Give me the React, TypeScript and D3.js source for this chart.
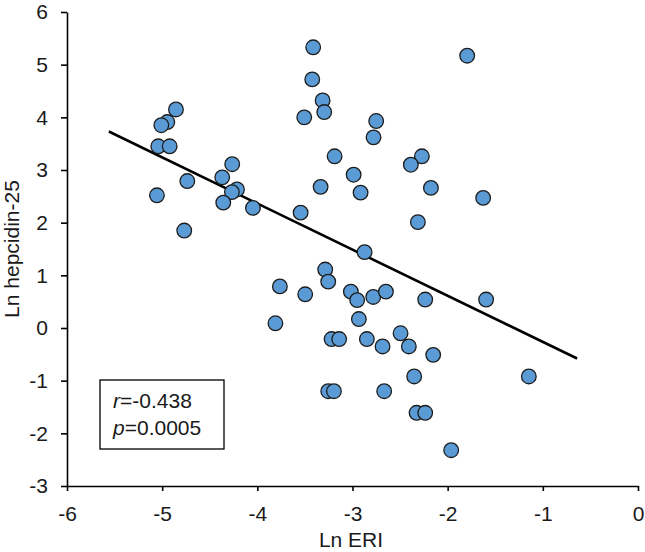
import React, { useRef, useEffect } from 'react';
import * as d3 from 'd3';

// Ln ERI (x) and Ln hepcidin-25 (y) per subject
const lnEri = [
  -4.855, -4.946, -5.009, -5.041, -4.921, -4.264, -4.369, -4.736, -4.214, -4.267,
  -5.055, -4.358, -4.046, -4.768, -3.413, -1.795, -3.423, -3.314, -3.297, -3.507,
  -2.751, -2.779, -3.188, -2.271, -2.387, -2.988, -3.335, -2.176, -2.915, -1.627,
  -3.545, -2.313, -2.873, -3.287, -3.255, -3.763, -3.497, -3.017, -2.951, -2.782,
  -2.649, -2.236, -2.933, -3.22, -3.14, -2.849, -2.684, -2.495, -2.408, -2.152,
  -2.352, -3.255, -3.195, -2.667, -2.327, -2.236, -1.963, -3.81, -1.596, -1.147,
];
const lnHepcidin = [
  4.15, 3.91, 3.85, 3.45, 3.45, 3.11, 2.86, 2.79, 2.63, 2.58,
  2.52, 2.38, 2.28, 1.85, 5.33, 5.17, 4.72, 4.32, 4.1, 4.0,
  3.93, 3.62, 3.26, 3.26, 3.1, 2.91, 2.68, 2.66, 2.57, 2.47,
  2.19, 2.01, 1.44, 1.11, 0.88, 0.79, 0.64, 0.69, 0.53, 0.59,
  0.69, 0.54, 0.17, -0.21, -0.21, -0.21, -0.35, -0.1, -0.35, -0.51,
  -0.92, -1.2, -1.2, -1.2, -1.61, -1.61, -2.32, 0.09, 0.54, -0.92,
];

// linear fit: y = intercept + slope * x, drawn over fitRange
const fitSlope = -0.876;
const fitIntercept = -1.14;
const fitRange = [-5.56, -0.64];

const xTicks = [-6, -5, -4, -3, -2, -1, 0];
const yTicks = [-3, -2, -1, 0, 1, 2, 3, 4, 5, 6];
const statLines = [
  { sym: 'r', val: '=-0.438' },
  { sym: 'p', val: '=0.0005' },
];

const WIDTH = 645;
const HEIGHT = 552;
const LEFT = 67;
const RIGHT = 638;
const TOP = 12;
const BOTTOM = 486;
const FONT = 'Liberation Sans, Arial, sans-serif';

function App() {
  const ref = useRef<SVGSVGElement>(null);

  useEffect(() => {
    document.body.style.margin = '0';
    const svg = d3.select(ref.current);
    svg.selectAll('*').remove();

    const x = d3.scaleLinear().domain([-6, 0]).range([LEFT, RIGHT]);
    const y = d3.scaleLinear().domain([-3, 6]).range([BOTTOM, TOP]);

    const yAxis = svg
      .append('g')
      .attr('transform', `translate(${LEFT},0)`)
      .call(
        d3.axisLeft(y).tickValues(yTicks).tickSize(6).tickSizeOuter(0).tickPadding(13)
          .tickFormat(d => String(d))
      );
    const xAxis = svg
      .append('g')
      .attr('transform', `translate(0,${BOTTOM})`)
      .call(
        d3.axisBottom(x).tickValues(xTicks).tickSize(5).tickSizeOuter(0).tickPadding(15)
          .tickFormat(d => String(d))
      );

    [xAxis, yAxis].forEach(g => {
      g.select('.domain').attr('stroke', '#000').attr('stroke-width', 1.6);
      g.selectAll('.tick line').attr('stroke', '#000').attr('stroke-width', 1.6);
      g.selectAll('.tick text')
        .attr('fill', '#1a1a1a')
        .style('font-family', FONT)
        .style('font-size', '21px');
    });

    // regression line
    svg
      .append('line')
      .attr('x1', x(fitRange[0]))
      .attr('y1', y(fitIntercept + fitSlope * fitRange[0]))
      .attr('x2', x(fitRange[1]))
      .attr('y2', y(fitIntercept + fitSlope * fitRange[1]))
      .attr('stroke', '#000')
      .attr('stroke-width', 2.6);

    svg
      .append('g')
      .selectAll('circle')
      .data(lnEri.map((v, i) => [v, lnHepcidin[i]]))
      .join('circle')
      .attr('cx', d => x(d[0]))
      .attr('cy', d => y(d[1]))
      .attr('r', 7.3)
      .attr('fill', '#5b9bd5')
      .attr('stroke', '#1c1c1c')
      .attr('stroke-width', 1.3);

    // stats box
    const box = svg.append('g');
    box
      .append('rect')
      .attr('x', 100)
      .attr('y', 380)
      .attr('width', 124)
      .attr('height', 69)
      .attr('fill', '#fff')
      .attr('stroke', '#000')
      .attr('stroke-width', 1.3);
    statLines.forEach((s, i) => {
      const t = box
        .append('text')
        .attr('x', 113)
        .attr('y', 408 + i * 27)
        .attr('fill', '#1a1a1a')
        .style('font-family', FONT)
        .style('font-size', '21px');
      t.append('tspan').style('font-style', 'italic').text(s.sym);
      t.append('tspan').text(s.val);
    });

    svg
      .append('text')
      .attr('transform', `translate(19,${(TOP + BOTTOM) / 2}) rotate(-90)`)
      .attr('text-anchor', 'middle')
      .attr('fill', '#1a1a1a')
      .style('font-family', FONT)
      .style('font-size', '21px')
      .text('Ln hepcidin-25');

    svg
      .append('text')
      .attr('x', 351)
      .attr('y', 547)
      .attr('text-anchor', 'middle')
      .attr('fill', '#1a1a1a')
      .style('font-family', FONT)
      .style('font-size', '21px')
      .text('Ln ERI');
  }, []);

  return (
    <svg
      ref={ref}
      width={WIDTH}
      height={HEIGHT}
      style={{ display: 'block', background: '#fff' }}
    ></svg>
  );
}

export default App;
